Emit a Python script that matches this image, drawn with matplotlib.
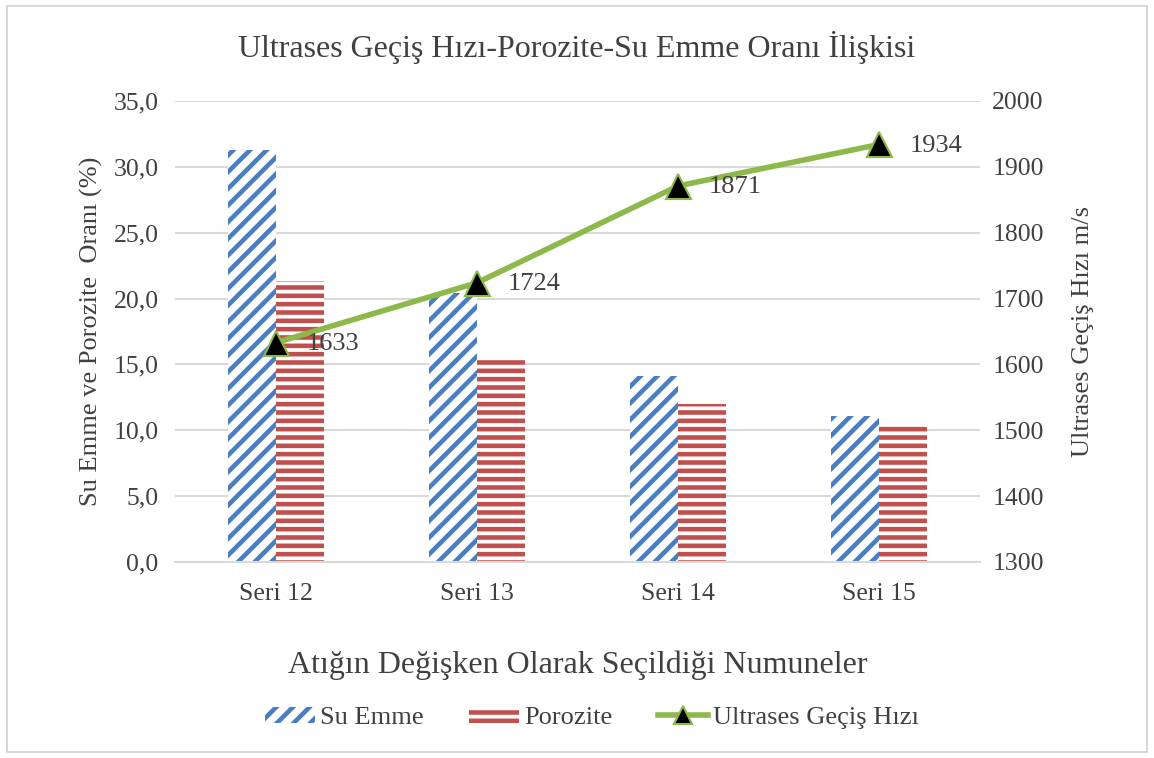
import numpy as np
import matplotlib.pyplot as plt
from matplotlib.patches import Rectangle
from matplotlib.ticker import FuncFormatter

plt.rcParams['font.family'] = ['Liberation Serif', 'DejaVu Serif']
plt.rcParams['hatch.linewidth'] = 3.3

seriler = ['Seri 12', 'Seri 13', 'Seri 14', 'Seri 15']
su_emme = [31.3, 20.4, 14.1, 11.1]
porozite = [21.3, 15.4, 12.0, 10.3]
hiz = [1633, 1724, 1871, 1934]

mavi = '#4A7EC2'
kirmizi = '#C0504D'
yesil = '#8DB84A'
yazi = '#404040'

fig = plt.figure(figsize=(11.54, 7.58), dpi=100)
fig.patches.append(Rectangle((0.006, 0.008), 0.988, 0.984, transform=fig.transFigure,
                             fill=False, edgecolor='#D0D0D0', lw=1.2))
ax = fig.add_axes([0.152, 0.2586, 0.697, 0.6082])
ax2 = ax.twinx()

x = np.arange(len(seriler))
w = 0.24
ax.bar(x - w / 2, su_emme, w, facecolor='white', edgecolor=mavi, hatch='//', lw=0, label='Su Emme')
ax.bar(x + w / 2, porozite, w, facecolor='white', edgecolor=kirmizi, hatch='--', lw=0, label='Porozite')

ax.set_ylim(0, 35)
ax.set_yticks(np.arange(0, 35.1, 5))
ax.yaxis.set_major_formatter(FuncFormatter(lambda v, p: f'{v:.1f}'.replace('.', ',')))
ax.set_xlim(-0.5, 3.5)
ax.set_xticks(x)
ax.set_xticklabels(seriler)
ax.grid(axis='y', color='#D9D9D9', lw=1.5)
ax.set_axisbelow(True)

ax2.plot(x, hiz, color=yesil, lw=4, marker='^', markersize=18, markerfacecolor='black',
         markeredgecolor=yesil, markeredgewidth=1.5, label='Ultrases Geçiş Hızı')
for xi, v in zip(x, hiz):
    ax2.annotate(str(v), (xi, v), xytext=(22, -1), textcoords='offset points',
                 va='center', ha='left', fontsize=19, color=yazi)
ax2.set_ylim(1300, 2000)
ax2.set_yticks(np.arange(1300, 2001, 100))

for a in (ax, ax2):
    for s in a.spines.values():
        s.set_visible(False)
    a.tick_params(length=0, labelsize=18.5, labelcolor=yazi)
ax.tick_params(axis='x', pad=15)
ax.tick_params(axis='y', pad=12)
ax2.tick_params(axis='y', pad=9)
ax.spines['bottom'].set_visible(True)
ax.spines['bottom'].set_color('#D9D9D9')
ax.spines['bottom'].set_linewidth(1.5)

ax.set_ylabel('Su Emme ve Porozite  Oranı (%)', fontsize=19, color=yazi, labelpad=8)
ax2.set_ylabel('Ultrases Geçiş Hızı m/s', fontsize=19, color=yazi, labelpad=20)
ax.set_xlabel('Atığın Değişken Olarak Seçildiği Numuneler', fontsize=23, color=yazi, labelpad=33)
fig.text(0.5, 0.937, 'Ultrases Geçiş Hızı-Porozite-Su Emme Oranı İlişkisi', ha='center',
         va='center', fontsize=23, color=yazi)

h1, l1 = ax.get_legend_handles_labels()
h2, l2 = ax2.get_legend_handles_labels()
fig.legend(h1 + h2, l1 + l2, loc='center', bbox_to_anchor=(0.513, 0.053), ncol=3, frameon=False,
           fontsize=19, labelcolor=yazi, handlelength=1.9, handleheight=0.55, handletextpad=0.2,
           columnspacing=1.7, markerscale=0.7)

fig.savefig('out.png', dpi=100)
